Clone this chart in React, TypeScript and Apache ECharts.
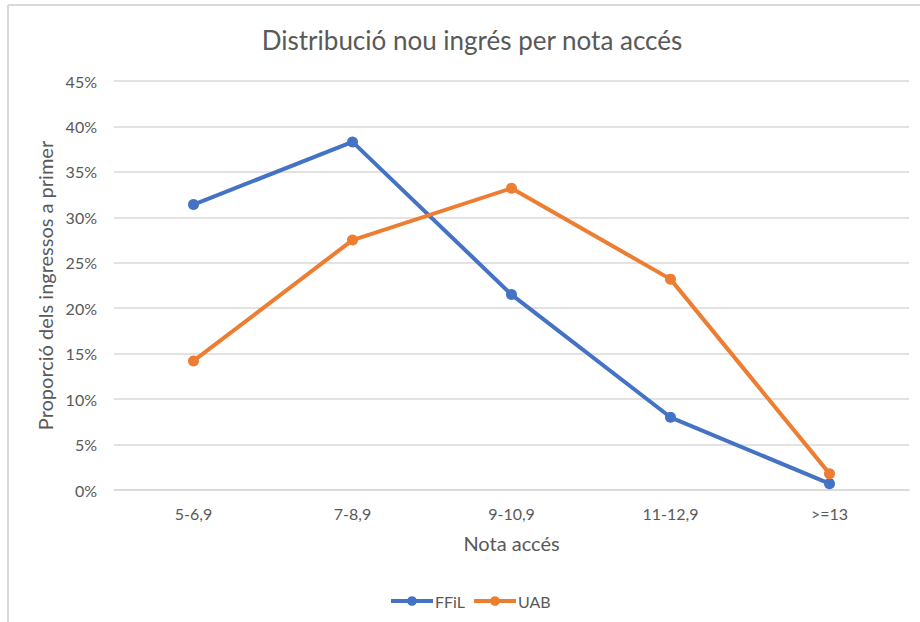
import React, { useEffect, useRef } from "react";
import * as echarts from "echarts";

const categories = ["5-6,9", "7-8,9", "9-10,9", "11-12,9", ">=13"];
const ffil = [31.4, 38.3, 21.5, 8.0, 0.7];
const uab = [14.2, 27.5, 33.2, 23.2, 1.8];
const yTicks = [0, 5, 10, 15, 20, 25, 30, 35, 40, 45];

const FONT = "Lato, 'Open Sans', sans-serif";
const GREY = "#595959";

export default function App() {
  const ref = useRef<HTMLDivElement>(null);
  useEffect(() => {
    const chart = echarts.init(ref.current!, null, { renderer: "svg" });
    chart.setOption({
      animation: false,
      backgroundColor: "#ffffff",
      title: {
        text: "Distribució nou ingrés per nota accés",
        left: 467,
        top: 22,
        textAlign: "center",
        textStyle: { fontFamily: FONT, fontSize: 26, fontWeight: "normal", color: GREY },
      },
      graphic: [
        { type: "line", shape: { x1: 8, y1: 5, x2: 920, y2: 5 }, style: { stroke: "#d9d9d9", lineWidth: 2 } },
        { type: "line", shape: { x1: 8, y1: 5, x2: 8, y2: 622 }, style: { stroke: "#d9d9d9", lineWidth: 2 } },
      ],
      legend: {
        data: ["FFiL", "UAB"],
        top: 588,
        left: 384,
        itemWidth: 42,
        itemHeight: 12,
        itemGap: 7,
        lineStyle: { width: 4 },
        textStyle: { fontFamily: FONT, fontSize: 16, color: GREY, padding: [0, 0, 0, -3] },
      },
      grid: { left: 114, right: 11, top: 81, bottom: 132 },
      xAxis: {
        type: "category",
        data: categories,
        boundaryGap: true,
        name: "Nota accés",
        nameLocation: "middle",
        nameGap: 43,
        nameTextStyle: { fontFamily: FONT, fontSize: 20, color: GREY },
        axisLine: { show: true, lineStyle: { color: "#d9d9d9", width: 1.5 } },
        axisTick: { show: false },
        axisLabel: { fontFamily: FONT, fontSize: 16, color: GREY, margin: 15 },
      },
      yAxis: {
        type: "value",
        min: yTicks[0],
        max: yTicks[yTicks.length - 1],
        interval: 5,
        name: "Proporció dels ingressos a primer",
        nameLocation: "middle",
        nameGap: 59,
        nameTextStyle: { fontFamily: FONT, fontSize: 20, color: GREY },
        axisLine: { show: false },
        axisTick: { show: false },
        axisLabel: { fontFamily: FONT, fontSize: 16, color: GREY, margin: 17, formatter: "{value}%" },
        splitLine: { lineStyle: { color: "#d9d9d9", width: 1.5 } },
      },
      series: [
        {
          name: "FFiL",
          type: "line",
          data: ffil,
          symbol: "circle",
          symbolSize: 11,
          lineStyle: { width: 4, color: "#4472C4" },
          itemStyle: { color: "#4472C4" },
          z: 2,
        },
        {
          name: "UAB",
          type: "line",
          data: uab,
          symbol: "circle",
          symbolSize: 11,
          lineStyle: { width: 4, color: "#ED7D31" },
          itemStyle: { color: "#ED7D31" },
          z: 3,
        },
      ],
    });
    return () => chart.dispose();
  }, []);
  return (
    <div
      ref={ref}
      style={{ position: "absolute", left: 0, top: 0, width: 920, height: 622 }}
    />
  );
}
